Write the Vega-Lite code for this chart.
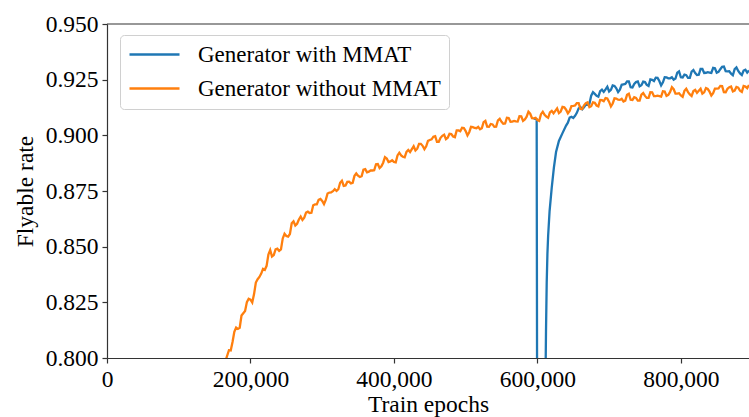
{
  "$schema": "https://vega.github.io/schema/vega-lite/v6.json",
  "width": 642,
  "height": 334,
  "autosize": {"type": "none"},
  "padding": {"left": 107, "top": 24, "right": 0, "bottom": 59},
  "config": {
    "font": "Liberation Serif",
    "view": {"stroke": null},
    "axis": {
      "domainColor": "#333333",
      "domainWidth": 1.2,
      "tickColor": "#333333",
      "tickWidth": 1.2,
      "tickSize": 5,
      "grid": false,
      "labelFont": "Liberation Serif",
      "labelFontSize": 23.5,
      "labelColor": "#000000",
      "labelPadding": 4,
      "titleFont": "Liberation Serif",
      "titleFontSize": 23.5,
      "titleFontWeight": "normal",
      "titleColor": "#000000"
    },
    "legend": {
      "labelFont": "Liberation Serif",
      "labelFontSize": 23,
      "labelColor": "#000000",
      "labelLimit": 400
    }
  },
  "layer": [
    {
      "data": {
        "values": [
          {"epoch": 595000, "rate": 0.9076, "series": "Generator with MMAT"},
          {"epoch": 599000, "rate": 0.9072, "series": "Generator with MMAT"},
          {"epoch": 600000, "rate": 0.70, "series": "Generator with MMAT"},
          {"epoch": 601000, "rate": 0.62, "series": "Generator with MMAT"},
          {"epoch": 605000, "rate": 0.60, "series": "Generator with MMAT"},
          {"epoch": 609000, "rate": 0.66, "series": "Generator with MMAT"},
          {"epoch": 611000, "rate": 0.78, "series": "Generator with MMAT"},
          {"epoch": 612000, "rate": 0.812, "series": "Generator with MMAT"},
          {"epoch": 613000, "rate": 0.834, "series": "Generator with MMAT"},
          {"epoch": 614000, "rate": 0.847, "series": "Generator with MMAT"},
          {"epoch": 615000, "rate": 0.855, "series": "Generator with MMAT"},
          {"epoch": 617000, "rate": 0.866, "series": "Generator with MMAT"},
          {"epoch": 620000, "rate": 0.8765, "series": "Generator with MMAT"},
          {"epoch": 623000, "rate": 0.8855, "series": "Generator with MMAT"},
          {"epoch": 626000, "rate": 0.8925, "series": "Generator with MMAT"},
          {"epoch": 630000, "rate": 0.8975, "series": "Generator with MMAT"},
          {"epoch": 635000, "rate": 0.901, "series": "Generator with MMAT"},
          {"epoch": 640000, "rate": 0.9044, "series": "Generator with MMAT"},
          {"epoch": 642500, "rate": 0.9057, "series": "Generator with MMAT"},
          {"epoch": 645000, "rate": 0.908, "series": "Generator with MMAT"},
          {"epoch": 647500, "rate": 0.9083, "series": "Generator with MMAT"},
          {"epoch": 650000, "rate": 0.9078, "series": "Generator with MMAT"},
          {"epoch": 652500, "rate": 0.9088, "series": "Generator with MMAT"},
          {"epoch": 655000, "rate": 0.9101, "series": "Generator with MMAT"},
          {"epoch": 657500, "rate": 0.9121, "series": "Generator with MMAT"},
          {"epoch": 660000, "rate": 0.9127, "series": "Generator with MMAT"},
          {"epoch": 662500, "rate": 0.9117, "series": "Generator with MMAT"},
          {"epoch": 665000, "rate": 0.9126, "series": "Generator with MMAT"},
          {"epoch": 667500, "rate": 0.9138, "series": "Generator with MMAT"},
          {"epoch": 670000, "rate": 0.9137, "series": "Generator with MMAT"},
          {"epoch": 672500, "rate": 0.9141, "series": "Generator with MMAT"},
          {"epoch": 675000, "rate": 0.9178, "series": "Generator with MMAT"},
          {"epoch": 677500, "rate": 0.9194, "series": "Generator with MMAT"},
          {"epoch": 680000, "rate": 0.9186, "series": "Generator with MMAT"},
          {"epoch": 682500, "rate": 0.9178, "series": "Generator with MMAT"},
          {"epoch": 685000, "rate": 0.9174, "series": "Generator with MMAT"},
          {"epoch": 687500, "rate": 0.9198, "series": "Generator with MMAT"},
          {"epoch": 690000, "rate": 0.9205, "series": "Generator with MMAT"},
          {"epoch": 692500, "rate": 0.9195, "series": "Generator with MMAT"},
          {"epoch": 695000, "rate": 0.9206, "series": "Generator with MMAT"},
          {"epoch": 697500, "rate": 0.9218, "series": "Generator with MMAT"},
          {"epoch": 700000, "rate": 0.9197, "series": "Generator with MMAT"},
          {"epoch": 702500, "rate": 0.9204, "series": "Generator with MMAT"},
          {"epoch": 705000, "rate": 0.9224, "series": "Generator with MMAT"},
          {"epoch": 707500, "rate": 0.9222, "series": "Generator with MMAT"},
          {"epoch": 710000, "rate": 0.9211, "series": "Generator with MMAT"},
          {"epoch": 712500, "rate": 0.9194, "series": "Generator with MMAT"},
          {"epoch": 715000, "rate": 0.9205, "series": "Generator with MMAT"},
          {"epoch": 717500, "rate": 0.9227, "series": "Generator with MMAT"},
          {"epoch": 720000, "rate": 0.9229, "series": "Generator with MMAT"},
          {"epoch": 722500, "rate": 0.9231, "series": "Generator with MMAT"},
          {"epoch": 725000, "rate": 0.9242, "series": "Generator with MMAT"},
          {"epoch": 727500, "rate": 0.9242, "series": "Generator with MMAT"},
          {"epoch": 730000, "rate": 0.9216, "series": "Generator with MMAT"},
          {"epoch": 732500, "rate": 0.9215, "series": "Generator with MMAT"},
          {"epoch": 735000, "rate": 0.9231, "series": "Generator with MMAT"},
          {"epoch": 737500, "rate": 0.9239, "series": "Generator with MMAT"},
          {"epoch": 740000, "rate": 0.9242, "series": "Generator with MMAT"},
          {"epoch": 742500, "rate": 0.922, "series": "Generator with MMAT"},
          {"epoch": 745000, "rate": 0.9225, "series": "Generator with MMAT"},
          {"epoch": 747500, "rate": 0.9241, "series": "Generator with MMAT"},
          {"epoch": 750000, "rate": 0.9239, "series": "Generator with MMAT"},
          {"epoch": 752500, "rate": 0.9227, "series": "Generator with MMAT"},
          {"epoch": 755000, "rate": 0.9222, "series": "Generator with MMAT"},
          {"epoch": 757500, "rate": 0.9251, "series": "Generator with MMAT"},
          {"epoch": 760000, "rate": 0.9249, "series": "Generator with MMAT"},
          {"epoch": 762500, "rate": 0.9244, "series": "Generator with MMAT"},
          {"epoch": 765000, "rate": 0.9259, "series": "Generator with MMAT"},
          {"epoch": 767500, "rate": 0.9258, "series": "Generator with MMAT"},
          {"epoch": 770000, "rate": 0.9244, "series": "Generator with MMAT"},
          {"epoch": 772500, "rate": 0.9224, "series": "Generator with MMAT"},
          {"epoch": 775000, "rate": 0.9238, "series": "Generator with MMAT"},
          {"epoch": 777500, "rate": 0.9261, "series": "Generator with MMAT"},
          {"epoch": 780000, "rate": 0.926, "series": "Generator with MMAT"},
          {"epoch": 782500, "rate": 0.9256, "series": "Generator with MMAT"},
          {"epoch": 785000, "rate": 0.9256, "series": "Generator with MMAT"},
          {"epoch": 787500, "rate": 0.9261, "series": "Generator with MMAT"},
          {"epoch": 790000, "rate": 0.925, "series": "Generator with MMAT"},
          {"epoch": 792500, "rate": 0.9255, "series": "Generator with MMAT"},
          {"epoch": 795000, "rate": 0.9281, "series": "Generator with MMAT"},
          {"epoch": 797500, "rate": 0.9287, "series": "Generator with MMAT"},
          {"epoch": 800000, "rate": 0.9261, "series": "Generator with MMAT"},
          {"epoch": 802500, "rate": 0.926, "series": "Generator with MMAT"},
          {"epoch": 805000, "rate": 0.9273, "series": "Generator with MMAT"},
          {"epoch": 807500, "rate": 0.927, "series": "Generator with MMAT"},
          {"epoch": 810000, "rate": 0.9258, "series": "Generator with MMAT"},
          {"epoch": 812500, "rate": 0.9258, "series": "Generator with MMAT"},
          {"epoch": 815000, "rate": 0.9286, "series": "Generator with MMAT"},
          {"epoch": 817500, "rate": 0.9293, "series": "Generator with MMAT"},
          {"epoch": 820000, "rate": 0.928, "series": "Generator with MMAT"},
          {"epoch": 822500, "rate": 0.9271, "series": "Generator with MMAT"},
          {"epoch": 825000, "rate": 0.9272, "series": "Generator with MMAT"},
          {"epoch": 827500, "rate": 0.9298, "series": "Generator with MMAT"},
          {"epoch": 830000, "rate": 0.9298, "series": "Generator with MMAT"},
          {"epoch": 832500, "rate": 0.928, "series": "Generator with MMAT"},
          {"epoch": 835000, "rate": 0.9281, "series": "Generator with MMAT"},
          {"epoch": 837500, "rate": 0.9284, "series": "Generator with MMAT"},
          {"epoch": 840000, "rate": 0.9282, "series": "Generator with MMAT"},
          {"epoch": 842500, "rate": 0.928, "series": "Generator with MMAT"},
          {"epoch": 845000, "rate": 0.9303, "series": "Generator with MMAT"},
          {"epoch": 847500, "rate": 0.9301, "series": "Generator with MMAT"},
          {"epoch": 850000, "rate": 0.9281, "series": "Generator with MMAT"},
          {"epoch": 852500, "rate": 0.9285, "series": "Generator with MMAT"},
          {"epoch": 855000, "rate": 0.9297, "series": "Generator with MMAT"},
          {"epoch": 857500, "rate": 0.9308, "series": "Generator with MMAT"},
          {"epoch": 860000, "rate": 0.9309, "series": "Generator with MMAT"},
          {"epoch": 862500, "rate": 0.9288, "series": "Generator with MMAT"},
          {"epoch": 865000, "rate": 0.9287, "series": "Generator with MMAT"},
          {"epoch": 867500, "rate": 0.9288, "series": "Generator with MMAT"},
          {"epoch": 870000, "rate": 0.9277, "series": "Generator with MMAT"},
          {"epoch": 872500, "rate": 0.927, "series": "Generator with MMAT"},
          {"epoch": 875000, "rate": 0.9297, "series": "Generator with MMAT"},
          {"epoch": 877500, "rate": 0.9305, "series": "Generator with MMAT"},
          {"epoch": 880000, "rate": 0.9289, "series": "Generator with MMAT"},
          {"epoch": 882500, "rate": 0.9278, "series": "Generator with MMAT"},
          {"epoch": 885000, "rate": 0.9271, "series": "Generator with MMAT"},
          {"epoch": 887500, "rate": 0.9291, "series": "Generator with MMAT"},
          {"epoch": 890000, "rate": 0.9295, "series": "Generator with MMAT"},
          {"epoch": 892500, "rate": 0.9282, "series": "Generator with MMAT"},
          {"epoch": 895000, "rate": 0.9291, "series": "Generator with MMAT"},
          {"epoch": 165000, "rate": 0.7985, "series": "Generator without MMAT"},
          {"epoch": 170000, "rate": 0.8035, "series": "Generator without MMAT"},
          {"epoch": 172500, "rate": 0.8034, "series": "Generator without MMAT"},
          {"epoch": 175000, "rate": 0.8072, "series": "Generator without MMAT"},
          {"epoch": 177500, "rate": 0.8118, "series": "Generator without MMAT"},
          {"epoch": 180000, "rate": 0.8137, "series": "Generator without MMAT"},
          {"epoch": 182500, "rate": 0.8131, "series": "Generator without MMAT"},
          {"epoch": 185000, "rate": 0.8136, "series": "Generator without MMAT"},
          {"epoch": 187500, "rate": 0.8191, "series": "Generator without MMAT"},
          {"epoch": 190000, "rate": 0.8201, "series": "Generator without MMAT"},
          {"epoch": 192500, "rate": 0.8211, "series": "Generator without MMAT"},
          {"epoch": 195000, "rate": 0.8251, "series": "Generator without MMAT"},
          {"epoch": 197500, "rate": 0.8266, "series": "Generator without MMAT"},
          {"epoch": 200000, "rate": 0.8262, "series": "Generator without MMAT"},
          {"epoch": 202500, "rate": 0.8249, "series": "Generator without MMAT"},
          {"epoch": 205000, "rate": 0.8287, "series": "Generator without MMAT"},
          {"epoch": 207500, "rate": 0.8339, "series": "Generator without MMAT"},
          {"epoch": 210000, "rate": 0.8354, "series": "Generator without MMAT"},
          {"epoch": 212500, "rate": 0.8364, "series": "Generator without MMAT"},
          {"epoch": 215000, "rate": 0.8379, "series": "Generator without MMAT"},
          {"epoch": 217500, "rate": 0.84, "series": "Generator without MMAT"},
          {"epoch": 220000, "rate": 0.8396, "series": "Generator without MMAT"},
          {"epoch": 222500, "rate": 0.8414, "series": "Generator without MMAT"},
          {"epoch": 225000, "rate": 0.8465, "series": "Generator without MMAT"},
          {"epoch": 227500, "rate": 0.8485, "series": "Generator without MMAT"},
          {"epoch": 230000, "rate": 0.8456, "series": "Generator without MMAT"},
          {"epoch": 232500, "rate": 0.8462, "series": "Generator without MMAT"},
          {"epoch": 235000, "rate": 0.8488, "series": "Generator without MMAT"},
          {"epoch": 237500, "rate": 0.8491, "series": "Generator without MMAT"},
          {"epoch": 240000, "rate": 0.8481, "series": "Generator without MMAT"},
          {"epoch": 242500, "rate": 0.8488, "series": "Generator without MMAT"},
          {"epoch": 245000, "rate": 0.8537, "series": "Generator without MMAT"},
          {"epoch": 247500, "rate": 0.8558, "series": "Generator without MMAT"},
          {"epoch": 250000, "rate": 0.8548, "series": "Generator without MMAT"},
          {"epoch": 252500, "rate": 0.8545, "series": "Generator without MMAT"},
          {"epoch": 255000, "rate": 0.8557, "series": "Generator without MMAT"},
          {"epoch": 257500, "rate": 0.8605, "series": "Generator without MMAT"},
          {"epoch": 260000, "rate": 0.8614, "series": "Generator without MMAT"},
          {"epoch": 262500, "rate": 0.8595, "series": "Generator without MMAT"},
          {"epoch": 265000, "rate": 0.8603, "series": "Generator without MMAT"},
          {"epoch": 267500, "rate": 0.8622, "series": "Generator without MMAT"},
          {"epoch": 270000, "rate": 0.8635, "series": "Generator without MMAT"},
          {"epoch": 272500, "rate": 0.862, "series": "Generator without MMAT"},
          {"epoch": 275000, "rate": 0.863, "series": "Generator without MMAT"},
          {"epoch": 277500, "rate": 0.8653, "series": "Generator without MMAT"},
          {"epoch": 280000, "rate": 0.8657, "series": "Generator without MMAT"},
          {"epoch": 282500, "rate": 0.8651, "series": "Generator without MMAT"},
          {"epoch": 285000, "rate": 0.8652, "series": "Generator without MMAT"},
          {"epoch": 287500, "rate": 0.8686, "series": "Generator without MMAT"},
          {"epoch": 290000, "rate": 0.869, "series": "Generator without MMAT"},
          {"epoch": 292500, "rate": 0.869, "series": "Generator without MMAT"},
          {"epoch": 295000, "rate": 0.871, "series": "Generator without MMAT"},
          {"epoch": 297500, "rate": 0.8714, "series": "Generator without MMAT"},
          {"epoch": 300000, "rate": 0.8705, "series": "Generator without MMAT"},
          {"epoch": 302500, "rate": 0.8691, "series": "Generator without MMAT"},
          {"epoch": 305000, "rate": 0.871, "series": "Generator without MMAT"},
          {"epoch": 307500, "rate": 0.8739, "series": "Generator without MMAT"},
          {"epoch": 310000, "rate": 0.8743, "series": "Generator without MMAT"},
          {"epoch": 312500, "rate": 0.8744, "series": "Generator without MMAT"},
          {"epoch": 315000, "rate": 0.8749, "series": "Generator without MMAT"},
          {"epoch": 317500, "rate": 0.8758, "series": "Generator without MMAT"},
          {"epoch": 320000, "rate": 0.875, "series": "Generator without MMAT"},
          {"epoch": 322500, "rate": 0.8758, "series": "Generator without MMAT"},
          {"epoch": 325000, "rate": 0.8787, "series": "Generator without MMAT"},
          {"epoch": 327500, "rate": 0.8796, "series": "Generator without MMAT"},
          {"epoch": 330000, "rate": 0.8773, "series": "Generator without MMAT"},
          {"epoch": 332500, "rate": 0.8775, "series": "Generator without MMAT"},
          {"epoch": 335000, "rate": 0.8791, "series": "Generator without MMAT"},
          {"epoch": 337500, "rate": 0.8792, "series": "Generator without MMAT"},
          {"epoch": 340000, "rate": 0.8784, "series": "Generator without MMAT"},
          {"epoch": 342500, "rate": 0.8787, "series": "Generator without MMAT"},
          {"epoch": 345000, "rate": 0.8818, "series": "Generator without MMAT"},
          {"epoch": 347500, "rate": 0.8829, "series": "Generator without MMAT"},
          {"epoch": 350000, "rate": 0.8819, "series": "Generator without MMAT"},
          {"epoch": 352500, "rate": 0.8813, "series": "Generator without MMAT"},
          {"epoch": 355000, "rate": 0.8817, "series": "Generator without MMAT"},
          {"epoch": 357500, "rate": 0.8846, "series": "Generator without MMAT"},
          {"epoch": 360000, "rate": 0.8848, "series": "Generator without MMAT"},
          {"epoch": 362500, "rate": 0.8834, "series": "Generator without MMAT"},
          {"epoch": 365000, "rate": 0.8837, "series": "Generator without MMAT"},
          {"epoch": 367500, "rate": 0.8842, "series": "Generator without MMAT"},
          {"epoch": 370000, "rate": 0.8842, "series": "Generator without MMAT"},
          {"epoch": 372500, "rate": 0.8843, "series": "Generator without MMAT"},
          {"epoch": 375000, "rate": 0.887, "series": "Generator without MMAT"},
          {"epoch": 377500, "rate": 0.8871, "series": "Generator without MMAT"},
          {"epoch": 380000, "rate": 0.8853, "series": "Generator without MMAT"},
          {"epoch": 382500, "rate": 0.8861, "series": "Generator without MMAT"},
          {"epoch": 385000, "rate": 0.8877, "series": "Generator without MMAT"},
          {"epoch": 387500, "rate": 0.8902, "series": "Generator without MMAT"},
          {"epoch": 390000, "rate": 0.8896, "series": "Generator without MMAT"},
          {"epoch": 392500, "rate": 0.888, "series": "Generator without MMAT"},
          {"epoch": 395000, "rate": 0.8883, "series": "Generator without MMAT"},
          {"epoch": 397500, "rate": 0.8888, "series": "Generator without MMAT"},
          {"epoch": 400000, "rate": 0.8881, "series": "Generator without MMAT"},
          {"epoch": 402500, "rate": 0.8879, "series": "Generator without MMAT"},
          {"epoch": 405000, "rate": 0.891, "series": "Generator without MMAT"},
          {"epoch": 407500, "rate": 0.8922, "series": "Generator without MMAT"},
          {"epoch": 410000, "rate": 0.891, "series": "Generator without MMAT"},
          {"epoch": 412500, "rate": 0.8904, "series": "Generator without MMAT"},
          {"epoch": 415000, "rate": 0.8901, "series": "Generator without MMAT"},
          {"epoch": 417500, "rate": 0.8926, "series": "Generator without MMAT"},
          {"epoch": 420000, "rate": 0.8934, "series": "Generator without MMAT"},
          {"epoch": 422500, "rate": 0.8925, "series": "Generator without MMAT"},
          {"epoch": 425000, "rate": 0.8938, "series": "Generator without MMAT"},
          {"epoch": 427500, "rate": 0.8951, "series": "Generator without MMAT"},
          {"epoch": 430000, "rate": 0.8932, "series": "Generator without MMAT"},
          {"epoch": 432500, "rate": 0.894, "series": "Generator without MMAT"},
          {"epoch": 435000, "rate": 0.8962, "series": "Generator without MMAT"},
          {"epoch": 437500, "rate": 0.8962, "series": "Generator without MMAT"},
          {"epoch": 440000, "rate": 0.8953, "series": "Generator without MMAT"},
          {"epoch": 442500, "rate": 0.8938, "series": "Generator without MMAT"},
          {"epoch": 445000, "rate": 0.8951, "series": "Generator without MMAT"},
          {"epoch": 447500, "rate": 0.8975, "series": "Generator without MMAT"},
          {"epoch": 450000, "rate": 0.8979, "series": "Generator without MMAT"},
          {"epoch": 452500, "rate": 0.8982, "series": "Generator without MMAT"},
          {"epoch": 455000, "rate": 0.8994, "series": "Generator without MMAT"},
          {"epoch": 457500, "rate": 0.8996, "series": "Generator without MMAT"},
          {"epoch": 460000, "rate": 0.8971, "series": "Generator without MMAT"},
          {"epoch": 462500, "rate": 0.8971, "series": "Generator without MMAT"},
          {"epoch": 465000, "rate": 0.8989, "series": "Generator without MMAT"},
          {"epoch": 467500, "rate": 0.8998, "series": "Generator without MMAT"},
          {"epoch": 470000, "rate": 0.9003, "series": "Generator without MMAT"},
          {"epoch": 472500, "rate": 0.8983, "series": "Generator without MMAT"},
          {"epoch": 475000, "rate": 0.8989, "series": "Generator without MMAT"},
          {"epoch": 477500, "rate": 0.9007, "series": "Generator without MMAT"},
          {"epoch": 480000, "rate": 0.9006, "series": "Generator without MMAT"},
          {"epoch": 482500, "rate": 0.8995, "series": "Generator without MMAT"},
          {"epoch": 485000, "rate": 0.8992, "series": "Generator without MMAT"},
          {"epoch": 487500, "rate": 0.9022, "series": "Generator without MMAT"},
          {"epoch": 490000, "rate": 0.9022, "series": "Generator without MMAT"},
          {"epoch": 492500, "rate": 0.9018, "series": "Generator without MMAT"},
          {"epoch": 495000, "rate": 0.9034, "series": "Generator without MMAT"},
          {"epoch": 497500, "rate": 0.9033, "series": "Generator without MMAT"},
          {"epoch": 500000, "rate": 0.9019, "series": "Generator without MMAT"},
          {"epoch": 502500, "rate": 0.9, "series": "Generator without MMAT"},
          {"epoch": 505000, "rate": 0.9014, "series": "Generator without MMAT"},
          {"epoch": 507500, "rate": 0.9038, "series": "Generator without MMAT"},
          {"epoch": 510000, "rate": 0.9037, "series": "Generator without MMAT"},
          {"epoch": 512500, "rate": 0.9033, "series": "Generator without MMAT"},
          {"epoch": 515000, "rate": 0.9032, "series": "Generator without MMAT"},
          {"epoch": 517500, "rate": 0.9038, "series": "Generator without MMAT"},
          {"epoch": 520000, "rate": 0.9027, "series": "Generator without MMAT"},
          {"epoch": 522500, "rate": 0.9032, "series": "Generator without MMAT"},
          {"epoch": 525000, "rate": 0.9059, "series": "Generator without MMAT"},
          {"epoch": 527500, "rate": 0.9065, "series": "Generator without MMAT"},
          {"epoch": 530000, "rate": 0.9039, "series": "Generator without MMAT"},
          {"epoch": 532500, "rate": 0.9038, "series": "Generator without MMAT"},
          {"epoch": 535000, "rate": 0.9051, "series": "Generator without MMAT"},
          {"epoch": 537500, "rate": 0.9049, "series": "Generator without MMAT"},
          {"epoch": 540000, "rate": 0.9038, "series": "Generator without MMAT"},
          {"epoch": 542500, "rate": 0.9039, "series": "Generator without MMAT"},
          {"epoch": 545000, "rate": 0.9067, "series": "Generator without MMAT"},
          {"epoch": 547500, "rate": 0.9074, "series": "Generator without MMAT"},
          {"epoch": 550000, "rate": 0.9061, "series": "Generator without MMAT"},
          {"epoch": 552500, "rate": 0.9052, "series": "Generator without MMAT"},
          {"epoch": 555000, "rate": 0.9053, "series": "Generator without MMAT"},
          {"epoch": 557500, "rate": 0.9079, "series": "Generator without MMAT"},
          {"epoch": 560000, "rate": 0.9078, "series": "Generator without MMAT"},
          {"epoch": 562500, "rate": 0.9061, "series": "Generator without MMAT"},
          {"epoch": 565000, "rate": 0.9062, "series": "Generator without MMAT"},
          {"epoch": 567500, "rate": 0.9065, "series": "Generator without MMAT"},
          {"epoch": 570000, "rate": 0.9063, "series": "Generator without MMAT"},
          {"epoch": 572500, "rate": 0.9062, "series": "Generator without MMAT"},
          {"epoch": 575000, "rate": 0.9086, "series": "Generator without MMAT"},
          {"epoch": 577500, "rate": 0.9085, "series": "Generator without MMAT"},
          {"epoch": 580000, "rate": 0.9065, "series": "Generator without MMAT"},
          {"epoch": 582500, "rate": 0.9071, "series": "Generator without MMAT"},
          {"epoch": 585000, "rate": 0.9084, "series": "Generator without MMAT"},
          {"epoch": 587500, "rate": 0.9106, "series": "Generator without MMAT"},
          {"epoch": 590000, "rate": 0.9097, "series": "Generator without MMAT"},
          {"epoch": 592500, "rate": 0.9077, "series": "Generator without MMAT"},
          {"epoch": 595000, "rate": 0.9076, "series": "Generator without MMAT"},
          {"epoch": 597500, "rate": 0.9079, "series": "Generator without MMAT"},
          {"epoch": 600000, "rate": 0.9069, "series": "Generator without MMAT"},
          {"epoch": 602500, "rate": 0.9065, "series": "Generator without MMAT"},
          {"epoch": 605000, "rate": 0.9095, "series": "Generator without MMAT"},
          {"epoch": 607500, "rate": 0.9106, "series": "Generator without MMAT"},
          {"epoch": 610000, "rate": 0.9092, "series": "Generator without MMAT"},
          {"epoch": 612500, "rate": 0.9084, "series": "Generator without MMAT"},
          {"epoch": 615000, "rate": 0.9079, "series": "Generator without MMAT"},
          {"epoch": 617500, "rate": 0.9103, "series": "Generator without MMAT"},
          {"epoch": 620000, "rate": 0.911, "series": "Generator without MMAT"},
          {"epoch": 622500, "rate": 0.9099, "series": "Generator without MMAT"},
          {"epoch": 625000, "rate": 0.911, "series": "Generator without MMAT"},
          {"epoch": 627500, "rate": 0.9121, "series": "Generator without MMAT"},
          {"epoch": 630000, "rate": 0.91, "series": "Generator without MMAT"},
          {"epoch": 632500, "rate": 0.9107, "series": "Generator without MMAT"},
          {"epoch": 635000, "rate": 0.9128, "series": "Generator without MMAT"},
          {"epoch": 637500, "rate": 0.9126, "series": "Generator without MMAT"},
          {"epoch": 640000, "rate": 0.9115, "series": "Generator without MMAT"},
          {"epoch": 642500, "rate": 0.9099, "series": "Generator without MMAT"},
          {"epoch": 645000, "rate": 0.911, "series": "Generator without MMAT"},
          {"epoch": 647500, "rate": 0.9131, "series": "Generator without MMAT"},
          {"epoch": 650000, "rate": 0.9132, "series": "Generator without MMAT"},
          {"epoch": 652500, "rate": 0.9134, "series": "Generator without MMAT"},
          {"epoch": 655000, "rate": 0.9145, "series": "Generator without MMAT"},
          {"epoch": 657500, "rate": 0.9145, "series": "Generator without MMAT"},
          {"epoch": 660000, "rate": 0.9119, "series": "Generator without MMAT"},
          {"epoch": 662500, "rate": 0.9118, "series": "Generator without MMAT"},
          {"epoch": 665000, "rate": 0.9135, "series": "Generator without MMAT"},
          {"epoch": 667500, "rate": 0.9144, "series": "Generator without MMAT"},
          {"epoch": 670000, "rate": 0.9148, "series": "Generator without MMAT"},
          {"epoch": 672500, "rate": 0.9127, "series": "Generator without MMAT"},
          {"epoch": 675000, "rate": 0.9131, "series": "Generator without MMAT"},
          {"epoch": 677500, "rate": 0.9148, "series": "Generator without MMAT"},
          {"epoch": 680000, "rate": 0.9146, "series": "Generator without MMAT"},
          {"epoch": 682500, "rate": 0.9134, "series": "Generator without MMAT"},
          {"epoch": 685000, "rate": 0.913, "series": "Generator without MMAT"},
          {"epoch": 687500, "rate": 0.9159, "series": "Generator without MMAT"},
          {"epoch": 690000, "rate": 0.9158, "series": "Generator without MMAT"},
          {"epoch": 692500, "rate": 0.9153, "series": "Generator without MMAT"},
          {"epoch": 695000, "rate": 0.9167, "series": "Generator without MMAT"},
          {"epoch": 697500, "rate": 0.9165, "series": "Generator without MMAT"},
          {"epoch": 700000, "rate": 0.915, "series": "Generator without MMAT"},
          {"epoch": 702500, "rate": 0.913, "series": "Generator without MMAT"},
          {"epoch": 705000, "rate": 0.9143, "series": "Generator without MMAT"},
          {"epoch": 707500, "rate": 0.9166, "series": "Generator without MMAT"},
          {"epoch": 710000, "rate": 0.9165, "series": "Generator without MMAT"},
          {"epoch": 712500, "rate": 0.916, "series": "Generator without MMAT"},
          {"epoch": 715000, "rate": 0.9159, "series": "Generator without MMAT"},
          {"epoch": 717500, "rate": 0.9164, "series": "Generator without MMAT"},
          {"epoch": 720000, "rate": 0.9152, "series": "Generator without MMAT"},
          {"epoch": 722500, "rate": 0.9156, "series": "Generator without MMAT"},
          {"epoch": 725000, "rate": 0.9182, "series": "Generator without MMAT"},
          {"epoch": 727500, "rate": 0.9187, "series": "Generator without MMAT"},
          {"epoch": 730000, "rate": 0.916, "series": "Generator without MMAT"},
          {"epoch": 732500, "rate": 0.9159, "series": "Generator without MMAT"},
          {"epoch": 735000, "rate": 0.9171, "series": "Generator without MMAT"},
          {"epoch": 737500, "rate": 0.9168, "series": "Generator without MMAT"},
          {"epoch": 740000, "rate": 0.9156, "series": "Generator without MMAT"},
          {"epoch": 742500, "rate": 0.9156, "series": "Generator without MMAT"},
          {"epoch": 745000, "rate": 0.9183, "series": "Generator without MMAT"},
          {"epoch": 747500, "rate": 0.919, "series": "Generator without MMAT"},
          {"epoch": 750000, "rate": 0.9177, "series": "Generator without MMAT"},
          {"epoch": 752500, "rate": 0.9168, "series": "Generator without MMAT"},
          {"epoch": 755000, "rate": 0.9168, "series": "Generator without MMAT"},
          {"epoch": 757500, "rate": 0.9194, "series": "Generator without MMAT"},
          {"epoch": 760000, "rate": 0.9193, "series": "Generator without MMAT"},
          {"epoch": 762500, "rate": 0.9176, "series": "Generator without MMAT"},
          {"epoch": 765000, "rate": 0.9176, "series": "Generator without MMAT"},
          {"epoch": 767500, "rate": 0.9178, "series": "Generator without MMAT"},
          {"epoch": 770000, "rate": 0.9176, "series": "Generator without MMAT"},
          {"epoch": 772500, "rate": 0.9174, "series": "Generator without MMAT"},
          {"epoch": 775000, "rate": 0.9198, "series": "Generator without MMAT"},
          {"epoch": 777500, "rate": 0.9197, "series": "Generator without MMAT"},
          {"epoch": 780000, "rate": 0.9177, "series": "Generator without MMAT"},
          {"epoch": 782500, "rate": 0.9182, "series": "Generator without MMAT"},
          {"epoch": 785000, "rate": 0.9195, "series": "Generator without MMAT"},
          {"epoch": 787500, "rate": 0.9216, "series": "Generator without MMAT"},
          {"epoch": 790000, "rate": 0.9207, "series": "Generator without MMAT"},
          {"epoch": 792500, "rate": 0.9187, "series": "Generator without MMAT"},
          {"epoch": 795000, "rate": 0.9187, "series": "Generator without MMAT"},
          {"epoch": 797500, "rate": 0.9189, "series": "Generator without MMAT"},
          {"epoch": 800000, "rate": 0.9179, "series": "Generator without MMAT"},
          {"epoch": 802500, "rate": 0.9173, "series": "Generator without MMAT"},
          {"epoch": 805000, "rate": 0.92, "series": "Generator without MMAT"},
          {"epoch": 807500, "rate": 0.9209, "series": "Generator without MMAT"},
          {"epoch": 810000, "rate": 0.9194, "series": "Generator without MMAT"},
          {"epoch": 812500, "rate": 0.9184, "series": "Generator without MMAT"},
          {"epoch": 815000, "rate": 0.9177, "series": "Generator without MMAT"},
          {"epoch": 817500, "rate": 0.9199, "series": "Generator without MMAT"},
          {"epoch": 820000, "rate": 0.9204, "series": "Generator without MMAT"},
          {"epoch": 822500, "rate": 0.9191, "series": "Generator without MMAT"},
          {"epoch": 825000, "rate": 0.92, "series": "Generator without MMAT"},
          {"epoch": 827500, "rate": 0.9209, "series": "Generator without MMAT"},
          {"epoch": 830000, "rate": 0.9187, "series": "Generator without MMAT"},
          {"epoch": 832500, "rate": 0.9193, "series": "Generator without MMAT"},
          {"epoch": 835000, "rate": 0.9212, "series": "Generator without MMAT"},
          {"epoch": 837500, "rate": 0.9208, "series": "Generator without MMAT"},
          {"epoch": 840000, "rate": 0.9196, "series": "Generator without MMAT"},
          {"epoch": 842500, "rate": 0.9179, "series": "Generator without MMAT"},
          {"epoch": 845000, "rate": 0.9189, "series": "Generator without MMAT"},
          {"epoch": 847500, "rate": 0.921, "series": "Generator without MMAT"},
          {"epoch": 850000, "rate": 0.921, "series": "Generator without MMAT"},
          {"epoch": 852500, "rate": 0.9211, "series": "Generator without MMAT"},
          {"epoch": 855000, "rate": 0.9222, "series": "Generator without MMAT"},
          {"epoch": 857500, "rate": 0.9221, "series": "Generator without MMAT"},
          {"epoch": 860000, "rate": 0.9194, "series": "Generator without MMAT"},
          {"epoch": 862500, "rate": 0.9193, "series": "Generator without MMAT"},
          {"epoch": 865000, "rate": 0.9209, "series": "Generator without MMAT"},
          {"epoch": 867500, "rate": 0.9216, "series": "Generator without MMAT"},
          {"epoch": 870000, "rate": 0.9219, "series": "Generator without MMAT"},
          {"epoch": 872500, "rate": 0.9197, "series": "Generator without MMAT"},
          {"epoch": 875000, "rate": 0.9201, "series": "Generator without MMAT"},
          {"epoch": 877500, "rate": 0.9217, "series": "Generator without MMAT"},
          {"epoch": 880000, "rate": 0.9214, "series": "Generator without MMAT"},
          {"epoch": 882500, "rate": 0.92, "series": "Generator without MMAT"},
          {"epoch": 885000, "rate": 0.9195, "series": "Generator without MMAT"},
          {"epoch": 887500, "rate": 0.9222, "series": "Generator without MMAT"},
          {"epoch": 890000, "rate": 0.9219, "series": "Generator without MMAT"},
          {"epoch": 892500, "rate": 0.9212, "series": "Generator without MMAT"},
          {"epoch": 895000, "rate": 0.9226, "series": "Generator without MMAT"}
        ]
      },
      "mark": {"type": "line", "strokeWidth": 2.3, "clip": true},
      "encoding": {
        "x": {
          "field": "epoch",
          "type": "quantitative",
          "scale": {"domain": [0, 895000], "nice": false, "zero": false},
          "axis": {
            "title": "Train epochs",
            "values": [0, 200000, 400000, 600000, 800000],
            "format": ",d",
            "labelFlush": false,
            "labelOverlap": false,
            "titlePadding": 2
          }
        },
        "y": {
          "field": "rate",
          "type": "quantitative",
          "scale": {"domain": [0.8, 0.95], "nice": false, "zero": false},
          "axis": {
            "title": "Flyable rate",
            "values": [0.8, 0.825, 0.85, 0.875, 0.9, 0.925, 0.95],
            "format": ".3f",
            "titlePadding": 8
          }
        },
        "color": {
          "field": "series",
          "type": "nominal",
          "scale": {
            "domain": ["Generator with MMAT", "Generator without MMAT"],
            "range": ["#1f77b4", "#ff7f0e"]
          },
          "legend": {
            "title": null,
            "orient": "none",
            "legendX": 13,
            "legendY": 11,
            "padding": 8,
            "strokeColor": "#d0d0d0",
            "fillColor": "#ffffff",
            "cornerRadius": 4,
            "symbolType": "M-1,0H4",
            "symbolSize": 400,
            "symbolStrokeWidth": 2.4,
            "labelFont": "Liberation Serif",
            "labelFontSize": 23,
            "labelLimit": 400,
            "labelOffset": 47,
            "rowPadding": 10
          }
        }
      }
    },
    {
      "data": {"values": [{"edge": "top"}]},
      "mark": {"type": "rule", "color": "#333333", "strokeWidth": 1.2},
      "encoding": {"y": {"datum": 0.95}}
    }
  ]
}
